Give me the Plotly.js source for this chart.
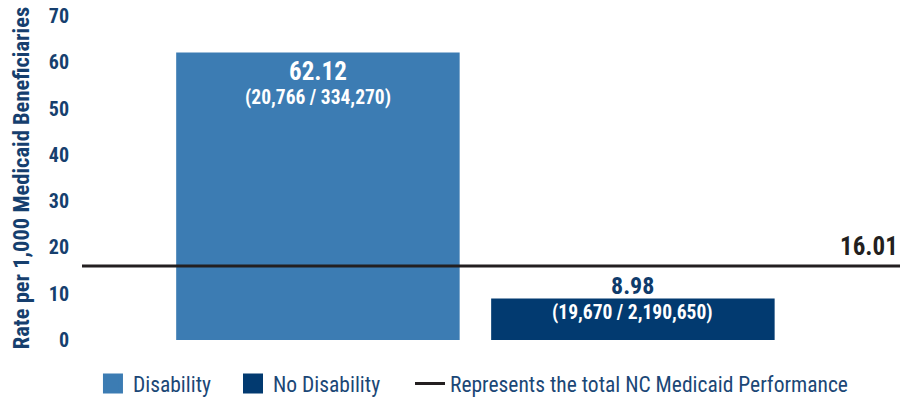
<!DOCTYPE html>
<html>
<head>
<meta charset="utf-8">
<script src="https://cdn.plot.ly/plotly-3.0.1.min.js"></script>
<style>
  html, body { margin: 0; padding: 0; background: #ffffff; }
  #chart { width: 903px; height: 400px; }
  svg text { font-stretch: 75% !important; }
</style>
</head>
<body>
<div id="chart"></div>
<script>
// ---- data ----
var categories = ["Disability", "No Disability"];
var rates = [62.12, 8.98];
var numerators = [20766, 19670];
var denominators = [334270, 2190650];
var totalRate = 16.01;
var totalLabel = "Represents the total NC Medicaid Performance";
var yTicks = [0, 10, 20, 30, 40, 50, 60, 70];

// ---- styling ----
var FONT = 'Roboto, "Liberation Sans", sans-serif';
var NAVY_TEXT = '#163f6e';
var LEGEND_TEXT = '#1b4776';
var barColors = ['#3c7cb3', '#023a70'];
var lineColor = '#231f20';
var legendIds = ['legend', 'legend2'];

function fmt(n) { return n.toLocaleString('en-US'); }

var traces = [];
traces.push({
  type: 'bar',
  x: categories,
  y: rates,
  width: 0.9,
  marker: { color: barColors },
  showlegend: false,
  hoverinfo: 'x+y'
});
categories.forEach(function (c, i) {
  traces.push({
    type: 'scatter', mode: 'markers', x: [null], y: [null], name: c,
    marker: { symbol: 'square', size: 16, color: barColors[i], line: { width: 4, color: barColors[i] } },
    showlegend: true, hoverinfo: 'skip', legend: legendIds[i]
  });
});
traces.push({
  type: 'scatter', mode: 'lines', x: [null], y: [null], name: totalLabel,
  line: { color: lineColor, width: 3 }, showlegend: true, hoverinfo: 'skip', legend: 'legend3'
});

var annotations = [];
annotations.push({
  x: categories[0], y: rates[0], xref: 'x', yref: 'y', showarrow: false,
  text: rates[0].toFixed(2), yanchor: 'middle', yshift: -19,
  font: { family: FONT, size: 25, color: '#ffffff', weight: 'bold' }
});
annotations.push({
  x: categories[0], y: rates[0], xref: 'x', yref: 'y', showarrow: false,
  text: '(' + fmt(numerators[0]) + ' / ' + fmt(denominators[0]) + ')',
  yanchor: 'middle', yshift: -45,
  font: { family: FONT, size: 19.5, color: '#ffffff', weight: 'bold' }
});
annotations.push({
  x: categories[1], y: rates[1], xref: 'x', yref: 'y', showarrow: false,
  text: rates[1].toFixed(2), yanchor: 'middle', yshift: 12,
  font: { family: FONT, size: 24, color: '#0f3b6b', weight: 'bold' }
});
annotations.push({
  x: categories[1], y: rates[1], xref: 'x', yref: 'y', showarrow: false,
  text: '(' + fmt(numerators[1]) + ' / ' + fmt(denominators[1]) + ')',
  yanchor: 'middle', yshift: -14,
  font: { family: FONT, size: 19.5, color: '#ffffff', weight: 'bold' }
});
annotations.push({
  x: 1, y: totalRate, xref: 'paper', yref: 'y', showarrow: false,
  text: totalRate.toFixed(2), xanchor: 'right', yanchor: 'middle', yshift: 19,
  font: { family: FONT, size: 25, color: lineColor, weight: 'bold' }
});

function legendAt(xp) {
  return {
    orientation: 'h', x: xp, xanchor: 'left', y: -0.071, yanchor: 'top',
    font: { family: FONT, size: 21.5, color: LEGEND_TEXT },
    itemsizing: 'trace', bgcolor: 'rgba(0,0,0,0)', borderwidth: 0
  };
}

var layout = {
  width: 903, height: 400,
  margin: { l: 82, r: 3, t: 16, b: 60, autoexpand: false },
  paper_bgcolor: '#ffffff', plot_bgcolor: '#ffffff',
  font: { family: FONT, color: NAVY_TEXT },
  xaxis: {
    type: 'category', range: [-0.749, 1.848],
    showticklabels: false, showgrid: false, zeroline: false, showline: false, ticks: ''
  },
  yaxis: {
    range: [0, 70], tickvals: yTicks, ticktext: yTicks.map(String),
    showgrid: false, zeroline: false, showline: false,
    ticks: 'outside', ticklen: 8, tickcolor: 'rgba(0,0,0,0)',
    tickfont: { family: FONT, size: 20, color: NAVY_TEXT, weight: 'bold' },
    title: {
      text: 'Rate per 1,000 Medicaid Beneficiaries', standoff: 12,
      font: { family: FONT, size: 22.5, color: NAVY_TEXT, weight: 'bold' }
    },
    automargin: false
  },
  shapes: [{
    type: 'line', xref: 'paper', yref: 'y', x0: 0, x1: 1, y0: totalRate, y1: totalRate,
    line: { color: lineColor, width: 3 }, layer: 'above'
  }],
  annotations: annotations,
  showlegend: true,
  legend: legendAt(0.0134),
  legend2: legendAt(0.1846),
  legend3: legendAt(0.401),
  bargap: 0.1
};

Plotly.newPlot('chart', traces, layout, { displayModeBar: false, staticPlot: true });
</script>
</body>
</html>
